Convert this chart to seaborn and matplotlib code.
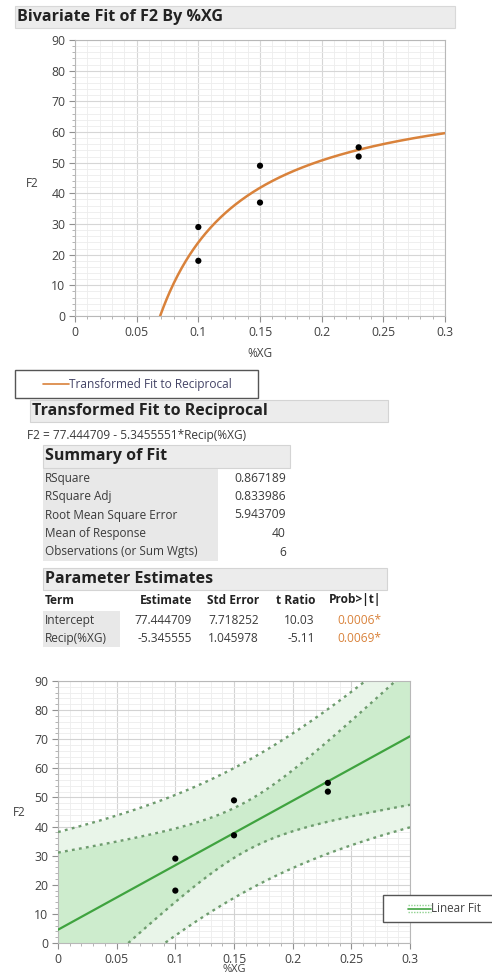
import matplotlib

matplotlib.use("Agg")
import matplotlib.pyplot as plt
import numpy as np
import seaborn as sns
from matplotlib.patches import Rectangle
from matplotlib.ticker import MultipleLocator

xg = [0.10, 0.10, 0.15, 0.15, 0.23, 0.23]
f2 = [29, 18, 49, 37, 55, 52]

recip_intercept = 77.444709
recip_slope = -5.3455551
t_crit = 2.7764451  # t(0.975, df=4)

summary_labels = ["RSquare", "RSquare Adj", "Root Mean Square Error",
                  "Mean of Response", "Observations (or Sum Wgts)"]
summary_values = ["0.867189", "0.833986", "5.943709", "40", "6"]

param_cols = ["Term", "Estimate", "Std Error", "t Ratio", "Prob>|t|"]
param_terms = ["Intercept", "Recip(%XG)"]
param_estimates = ["77.444709", "-5.345555"]
param_stderr = ["7.718252", "1.045978"]
param_tratio = ["10.03", "-5.11"]
param_prob = ["0.0006*", "0.0069*"]

W, H = 492, 980
ORANGE = "#d9823b"
GREEN = "#3fa33f"
DOT = "#6e9c6e"

sns.set_style("white")
plt.rcParams["font.family"] = ["Open Sans", "DejaVu Sans"]

fig = plt.figure(figsize=(W / 100, H / 100), dpi=100)


def fx(x):
    return x / W


def fy(y):
    return 1 - y / H


def txt(x, y, s, size=8.5, **kw):
    kw.setdefault("va", "center")
    kw.setdefault("color", "#3a3a3a")
    fig.text(fx(x), fy(y), s, fontsize=size, zorder=20, **kw)


def box(x0, y0, x1, y1, fc="#ececec", ec="#d4d4d4", lw=0.8, z=0):
    fig.add_artist(Rectangle((fx(x0), fy(y1)), (x1 - x0) / W, (y1 - y0) / H,
                             transform=fig.transFigure, fc=fc, ec=ec, lw=lw, zorder=z))


def style_axes(ax):
    ax.set_xlim(0, 0.3)
    ax.set_ylim(0, 90)
    ax.xaxis.set_major_locator(MultipleLocator(0.05))
    ax.xaxis.set_minor_locator(MultipleLocator(0.01))
    ax.yaxis.set_major_locator(MultipleLocator(10))
    ax.yaxis.set_minor_locator(MultipleLocator(2))
    ax.set_xticks(np.arange(0, 0.301, 0.05))
    ax.set_xticklabels(["0", "0.05", "0.1", "0.15", "0.2", "0.25", "0.3"])
    ax.grid(which="major", color="#d6d6d6", lw=0.8)
    ax.grid(which="minor", color="#ededed", lw=0.6)
    ax.set_axisbelow(True)
    for sp in ax.spines.values():
        sp.set_color("#b8b8b8")
        sp.set_linewidth(0.8)
    ax.tick_params(which="major", direction="out", length=4, color="#909090",
                   labelsize=8.8, labelcolor="#404040", bottom=True, left=True, pad=3)
    ax.tick_params(which="minor", direction="out", length=2, color="#a8a8a8",
                   bottom=True, left=True)


# ---- top: bivariate fit with reciprocal transform ----
box(15, 6, 455, 28, fc="#ececec", ec="#d8d8d8")
txt(17, 17, "Bivariate Fit of F2 By %XG", size=11.6, fontweight="bold", color="#222222")

ax1 = fig.add_axes([fx(75), fy(316), (445 - 75) / W, (316 - 40) / H])
xs = np.linspace(0.06, 0.3, 300)
ax1.plot(xs, recip_intercept + recip_slope / xs, color=ORANGE, lw=1.8)
sns.scatterplot(x=xg, y=f2, ax=ax1, color="black", s=20, edgecolor="none", zorder=5)
style_axes(ax1)
ax1.set_xlabel("%XG", fontsize=8.5, color="#404040", va="center")
ax1.xaxis.set_label_coords(0.5, -0.135)
ax1.set_ylabel("F2", fontsize=8.5, color="#404040", rotation=0, ha="center", va="center")
ax1.yaxis.set_label_coords(-0.115, 0.48)

# legend box
box(15, 370, 258, 398, fc="white", ec="#555555", lw=1.0)
fig.add_artist(plt.Line2D([fx(43), fx(69)], [fy(384), fy(384)], color=ORANGE, lw=1.2,
                          transform=fig.transFigure))
txt(69, 384, "Transformed Fit to Reciprocal", size=8.6, color="#444466")

# ---- report tables ----
box(30, 400, 388, 422)
txt(32, 411, "Transformed Fit to Reciprocal", size=11.5, fontweight="bold", color="#222222")
txt(27, 436, f"F2 = {recip_intercept:.6f} - {-recip_slope:.7f}*Recip(%XG)", size=8.6)

box(43, 445, 290, 468)
txt(45, 456, "Summary of Fit", size=11.5, fontweight="bold", color="#222222")
box(43, 469, 218, 561, fc="#e8e8e8", ec="none")
for i, (lab, val) in enumerate(zip(summary_labels, summary_values)):
    y = 478 + i * 18.5
    txt(45, y, lab, size=8.5)
    txt(286, y, val, size=8.7, ha="right")

box(43, 568, 387, 590)
txt(45, 579, "Parameter Estimates", size=11.5, fontweight="bold", color="#222222")
col_x = [45, 192, 259, 315, 381]
for j, c in enumerate(param_cols):
    txt(col_x[j], 600, c, size=8.6, fontweight="bold", color="#222222",
        ha="left" if j == 0 else "right")
box(43, 611, 120, 647, fc="#e8e8e8", ec="none")
for i in range(len(param_terms)):
    y = 620 + i * 18
    txt(col_x[0], y, param_terms[i], size=8.6)
    txt(col_x[1], y, param_estimates[i], size=8.6, ha="right")
    txt(col_x[2], y, param_stderr[i], size=8.6, ha="right")
    txt(col_x[3], y, param_tratio[i], size=8.6, ha="right")
    txt(col_x[4], y, param_prob[i], size=8.6, ha="right", color=ORANGE)

# ---- bottom: linear fit with confidence and prediction bands ----
x = np.array(xg)
y = np.array(f2, dtype=float)
slope, intercept = np.polyfit(x, y, 1)
n = len(x)
resid = y - (intercept + slope * x)
s = np.sqrt((resid ** 2).sum() / (n - 2))
sxx = ((x - x.mean()) ** 2).sum()
xl = np.linspace(0, 0.3, 200)
yl = intercept + slope * xl
lev = 1 / n + (xl - x.mean()) ** 2 / sxx
ci = t_crit * s * np.sqrt(lev)
pi = t_crit * s * np.sqrt(1 + lev)

ax2 = fig.add_axes([fx(58), fy(943), (410 - 58) / W, (943 - 681) / H])
ax2.fill_between(xl, yl - pi, yl + pi, color="#e9f5e9", lw=0, zorder=1)
ax2.fill_between(xl, yl - ci, yl + ci, color="#cdeccd", lw=0, zorder=1)
for band in (ci, pi):
    ax2.plot(xl, yl + band, color=DOT, lw=1.7, ls=(0, (1.2, 1.8)), zorder=3)
    ax2.plot(xl, yl - band, color=DOT, lw=1.7, ls=(0, (1.2, 1.8)), zorder=3)
ax2.plot(xl, yl, color=GREEN, lw=1.6, zorder=4)
sns.scatterplot(x=xg, y=f2, ax=ax2, color="black", s=20, edgecolor="none", zorder=5)
style_axes(ax2)
ax2.grid(which="major", color="#cfcfcf", lw=0.8, alpha=0.9)
ax2.set_xlabel("%XG", fontsize=8, color="#404040", va="center")
ax2.xaxis.set_label_coords(0.5, -0.103)
ax2.set_ylabel("F2", fontsize=8.5, color="#404040", rotation=0, ha="center", va="center")
ax2.yaxis.set_label_coords(-0.11, 0.5)

box(383, 895, 495, 922, fc="white", ec="#555555", lw=1.0, z=15)
fig.add_artist(plt.Line2D([fx(408), fx(431)], [fy(908.5), fy(908.5)], color=GREEN, lw=1.2,
                          transform=fig.transFigure, zorder=16))
for yy in (905, 912):
    fig.add_artist(plt.Line2D([fx(408), fx(431)], [fy(yy), fy(yy)], color="#8fd18f", lw=1.0,
                              ls=(0, (1, 1)), transform=fig.transFigure, zorder=16))
txt(431, 908.5, "Linear Fit", size=8.4, color="#444444")

fig.savefig("out.png", dpi=100)
